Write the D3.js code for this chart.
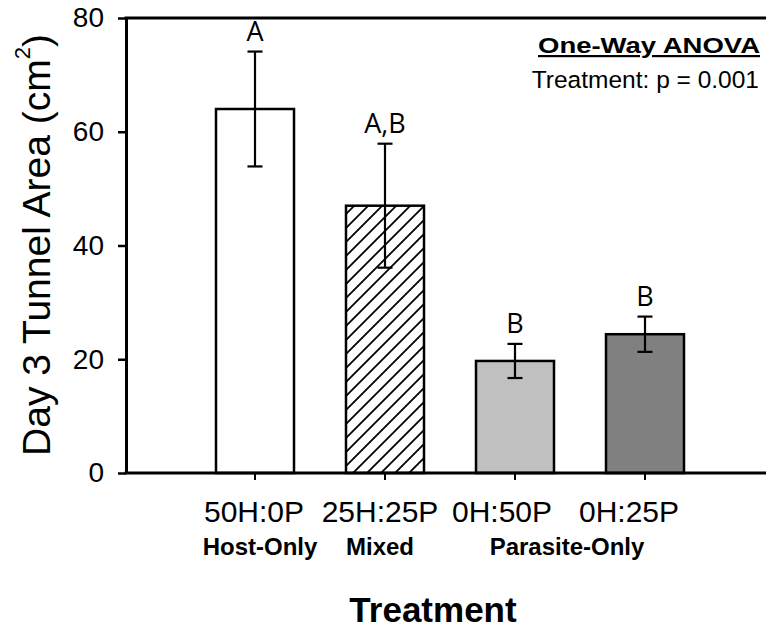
<!DOCTYPE html>
<html>
<head>
<meta charset="utf-8">
<title>Day 3 Tunnel Area</title>
<script src="https://cdn.jsdelivr.net/npm/d3@7"></script>
<style>
body { margin: 0; background: #fff; }
svg { display: block; font-family: "Liberation Sans", Arial, sans-serif; }
</style>
</head>
<body>
<script>

// data
var ratios = ["50H:0P", "25H:25P", "0H:50P", "0H:25P"];
var groups = ["Host-Only", "Mixed", "Parasite-Only"];
var groupOf = ["Host-Only", "Mixed", "Parasite-Only", "Parasite-Only"];
var means = [64.0, 47.0, 19.7, 24.4];
var sems = [10.1, 10.9, 3.0, 3.1];
var letters = ["A", "A,B", "B", "B"];
var yTicks = [0, 20, 40, 60, 80];

var fills = ["#ffffff", "url(#hatch)", "#c0c0c0", "#808080"];

var W = 766, H = 630;
var plotL = 126, plotR = 766, plotT = 18, plotB = 473;

var svg = d3.select("body").append("svg")
  .attr("width", W)
  .attr("height", H);

// diagonal hatch for the mixed treatment
var pat = svg.append("defs").append("pattern")
  .attr("id", "hatch")
  .attr("patternUnits", "userSpaceOnUse")
  .attr("width", 14)
  .attr("height", 14);
pat.append("rect").attr("width", 14).attr("height", 14).attr("fill", "#fff");
pat.append("path")
  .attr("d", "M-2,2 l4,-4 M0,14 l14,-14 M12,16 l4,-4")
  .attr("stroke", "#000")
  .attr("stroke-width", 1.8);

var y = d3.scaleLinear()
  .domain([0, 80])
  .range([plotB, plotT]);

var x = d3.scaleBand()
  .domain(ratios)
  .range([190, 710])
  .paddingInner(0.4)
  .paddingOuter(0.2);

var data = ratios.map(function(r, i) {
  return {ratio: r, mean: means[i], sem: sems[i], letter: letters[i], fill: fills[i]};
});

// bars
svg.selectAll(".bar")
  .data(data)
  .enter().append("rect")
  .attr("class", "bar")
  .attr("x", function(d) { return x(d.ratio); })
  .attr("y", function(d) { return y(d.mean); })
  .attr("width", x.bandwidth())
  .attr("height", function(d) { return y(0) - y(d.mean); })
  .attr("fill", function(d) { return d.fill; })
  .attr("stroke", "#000")
  .attr("stroke-width", 2.5);

// error bars
var cx = function(d) { return x(d.ratio) + x.bandwidth() / 2; };
var eb = svg.selectAll(".err")
  .data(data)
  .enter().append("g")
  .attr("class", "err")
  .attr("stroke", "#000")
  .attr("stroke-width", 2.2);
eb.append("line")
  .attr("x1", cx).attr("x2", cx)
  .attr("y1", function(d) { return y(d.mean + d.sem); })
  .attr("y2", function(d) { return y(d.mean - d.sem); });
eb.append("line")
  .attr("x1", function(d) { return cx(d) - 7.5; })
  .attr("x2", function(d) { return cx(d) + 7.5; })
  .attr("y1", function(d) { return y(d.mean + d.sem); })
  .attr("y2", function(d) { return y(d.mean + d.sem); });
eb.append("line")
  .attr("x1", function(d) { return cx(d) - 7.5; })
  .attr("x2", function(d) { return cx(d) + 7.5; })
  .attr("y1", function(d) { return y(d.mean - d.sem); })
  .attr("y2", function(d) { return y(d.mean - d.sem); });

// significance letters
svg.selectAll(".letter")
  .data(data)
  .enter().append("text")
  .attr("class", "letter")
  .attr("x", cx)
  .attr("y", function(d) { return y(d.mean + d.sem) - 11; })
  .attr("text-anchor", "middle")
  .style("font-family", "'Open Sans', sans-serif")
  .style("font-size", "27px")
  .text(function(d) { return d.letter; });

// y axis
var yAxis = svg.append("g")
  .attr("transform", "translate(" + plotL + ",0)")
  .call(d3.axisLeft(y).tickValues(yTicks).tickSizeInner(8).tickSizeOuter(0).tickPadding(14));
yAxis.select(".domain").attr("stroke-width", 3);
yAxis.selectAll(".tick line").attr("stroke-width", 2.5);
yAxis.selectAll(".tick text")
  .style("font-size", "28px")
  .style("font-family", "'Liberation Sans', Arial, sans-serif")
  .attr("fill", "#000");

// x axis ticks (labels drawn below)
var xAxis = svg.append("g")
  .attr("transform", "translate(0," + plotB + ")")
  .call(d3.axisBottom(x).tickSizeInner(7).tickSizeOuter(0).tickFormat(""));
xAxis.select(".domain").remove();
xAxis.selectAll(".tick line").attr("stroke-width", 2);

// frame lines: bottom axis and top border run to the right edge
svg.append("line")
  .attr("x1", plotL - 1.5).attr("x2", plotR)
  .attr("y1", plotB).attr("y2", plotB)
  .attr("stroke", "#000").attr("stroke-width", 3);
svg.append("line")
  .attr("x1", plotL - 1.5).attr("x2", plotR)
  .attr("y1", plotT).attr("y2", plotT)
  .attr("stroke", "#000").attr("stroke-width", 3);

// tick labels, nudged left as in the original
var labelShift = [-1, -5, -13, -16];
svg.selectAll(".xlab")
  .data(ratios)
  .enter().append("text")
  .attr("class", "xlab")
  .attr("x", function(d, i) { return x(d) + x.bandwidth() / 2 + labelShift[i]; })
  .attr("y", 522)
  .attr("text-anchor", "middle")
  .style("font-size", "30px")
  .text(function(d) { return d; });

// group labels under the ratios
var groupX = groups.map(function(g) {
  var idx = d3.range(ratios.length).filter(function(i) { return groupOf[i] === g; });
  return d3.mean(idx, function(i) { return x(ratios[i]) + x.bandwidth() / 2; });
});
var groupShift = [5, -5, -13];
svg.selectAll(".glab")
  .data(groups)
  .enter().append("text")
  .attr("class", "glab")
  .attr("x", function(d, i) { return groupX[i] + groupShift[i]; })
  .attr("y", 555)
  .attr("text-anchor", "middle")
  .style("font-size", "24px")
  .style("font-weight", "bold")
  .text(function(d) { return d; });

// axis titles
svg.append("text")
  .attr("x", 433)
  .attr("y", 622)
  .attr("text-anchor", "middle")
  .style("font-size", "35px")
  .style("font-weight", "bold")
  .text("Treatment");

var yt = svg.append("text")
  .attr("transform", "translate(50,245) rotate(-90)")
  .attr("text-anchor", "middle")
  .style("font-size", "39px");
yt.append("tspan").text("Day 3 Tunnel Area (cm");
yt.append("tspan").attr("dy", -20).style("font-size", "22px").text("2");
yt.append("tspan").attr("dy", 20).text(")");

// ANOVA annotation
svg.append("text")
  .attr("x", 760)
  .attr("y", 53)
  .attr("text-anchor", "end")
  .attr("textLength", 222)
  .attr("lengthAdjust", "spacingAndGlyphs")
  .style("font-size", "22px")
  .style("font-weight", "bold")
  .style("text-decoration", "underline")
  .text("One-Way ANOVA");
svg.append("text")
  .attr("x", 759)
  .attr("y", 88)
  .attr("text-anchor", "end")
  .style("font-size", "24.5px")
  .text("Treatment: p = 0.001");

</script>
</body>
</html>
